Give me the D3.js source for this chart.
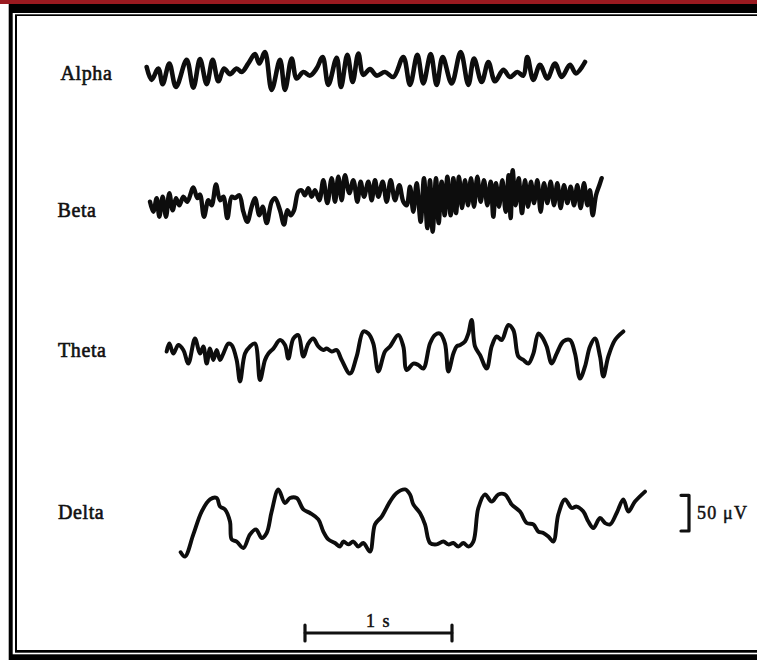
<!DOCTYPE html>
<html>
<head>
<meta charset="utf-8">
<script src="https://cdn.jsdelivr.net/npm/d3@7"></script>
<style>
  html, body { margin: 0; padding: 0; background: #fff; }
  svg { display: block; }
</style>
</head>
<body>
<div id="chart"></div>
<script>
// Tracés EEG : [échantillon, µV], échantillonnage 441 Hz
const sampleRate = 441;

const alpha = [
  [20, 7], [35, -11], [55, 5], [68, -17], [88, 12], [108, -21], [140, 17], [160, -22],
  [180, 18], [200, -17], [218, 17], [235, -13], [252, 5], [270, -3], [290, 5], [305, 0],
  [325, 12], [345, 25], [358, 12], [375, 28], [395, -25], [420, 17], [435, -25], [455, 19],
  [470, -9], [490, 0], [510, -5], [530, 5], [548, 21], [565, -18], [590, 20], [603, -21],
  [622, 24], [638, -14], [655, 26], [670, -4], [690, 4], [710, -5], [735, 0], [760, -7],
  [790, 21], [810, -18], [832, 24], [850, -16], [872, 25], [890, -18], [908, 21], [935, -16],
  [962, 28], [985, -18], [1002, 19], [1025, -14], [1045, 14], [1065, -13], [1090, 3], [1110, -7],
  [1132, 0], [1150, -5], [1162, 21], [1180, -11], [1200, 10], [1222, -9], [1245, 12], [1265, -7],
  [1290, 10], [1308, -2], [1335, 14]
];

const beta = [
  [30, 0], [40, -14], [50, 5], [58, -21], [68, 7], [78, -21], [88, 12], [98, -12],
  [108, 5], [118, -5], [130, 7], [142, 0], [160, 20], [172, 5], [180, 10], [192, -21],
  [205, 2], [215, -5], [228, 24], [240, 2], [250, 7], [262, -23], [275, 7], [285, 5],
  [298, 9], [310, -14], [322, -28], [335, -7], [345, 5], [358, -19], [368, -7], [380, -30],
  [395, 0], [405, 5], [420, -12], [432, -32], [442, -12], [452, -19], [462, -12], [475, 14],
  [485, 16], [495, 9], [505, 19], [515, 7], [525, 16], [538, 2], [550, 30], [562, -2],
  [575, 33], [585, 0], [595, 35], [605, 2], [615, 37], [628, 12], [640, 30], [652, 0],
  [662, 28], [672, 7], [685, 28], [695, 2], [705, 30], [715, 7], [728, 28], [740, 0],
  [752, 30], [765, 2], [778, 23], [790, 0],
  [800, -5], [810, 21], [820, -14], [830, 26], [842, -28], [852, 33], [862, -37], [870, 30],
  [878, -42], [888, 33], [896, -30], [905, 28], [914, -19], [922, 35], [932, -19], [940, 33],
  [948, -16], [957, 35], [966, -9], [975, 30], [984, -5], [993, 33], [1002, -7], [1012, 35],
  [1022, 0], [1032, 30], [1042, -5], [1052, 28], [1060, -21], [1068, 26], [1077, -7], [1087, 30],
  [1097, -14], [1106, 37], [1112, -23], [1118, 44], [1127, -5], [1136, 33], [1146, -16], [1155, 30],
  [1164, -7], [1173, 28], [1182, -2], [1192, 30], [1202, -14], [1212, 26], [1222, -2], [1232, 28],
  [1242, -5], [1252, 26], [1262, -9], [1272, 23], [1282, -2], [1292, 21], [1302, -5], [1312, 23],
  [1322, -9], [1332, 26], [1342, -5], [1350, 16], [1358, -19], [1368, 9], [1378, 23], [1385, 33]
];

const theta = [
  [80, -2], [88, 9], [100, -5], [115, 7], [130, 0], [145, -19], [165, 16], [180, -5],
  [190, 5], [200, -19], [210, 2], [220, -14], [230, 0], [240, -14], [250, -5], [265, 9],
  [275, 7], [290, -14], [300, -44], [315, -5], [330, 5], [345, 9], [360, -42], [375, -14],
  [385, -5], [400, 2], [420, 14], [435, 7], [445, -12], [460, 16], [475, 21], [490, -9],
  [505, 9], [520, 16], [535, 5], [550, 0], [560, 2], [575, -2], [590, 0], [605, -14],
  [630, -33], [650, -9], [670, 26], [685, 23], [700, 9], [715, -30], [735, -2], [750, 5],
  [775, 21], [790, 5], [800, -28], [820, -19], [835, -21], [850, -26], [870, 9], [885, 21],
  [900, 23], [915, 9], [925, -30], [940, -5], [950, 5], [960, 7], [975, 12], [985, 23],
  [995, 42], [1005, 5], [1020, -7], [1040, -26], [1055, 5], [1070, 19], [1085, 14], [1105, 35],
  [1120, 28], [1135, -9], [1150, -14], [1165, -19], [1180, -5], [1195, 23], [1205, 19], [1220, 5],
  [1235, -19], [1250, -5], [1270, 12], [1290, 14], [1305, -5], [1320, -40], [1335, -23], [1350, 5],
  [1365, 16], [1380, -9], [1390, -37], [1405, -9], [1425, 14], [1450, 26]
];

const delta = [
  [122, -41], [135, -47], [160, -16], [185, 16], [210, 33], [230, 35], [240, 23], [255, 19],
  [270, 2], [275, -23], [290, -26], [310, -35], [330, -16], [348, -9], [365, -21], [380, -14],
  [395, 16], [415, 47], [435, 28], [450, 35], [470, 35], [490, 19], [510, 14], [535, 5],
  [550, -12], [565, -23], [585, -28], [600, -33], [610, -26], [625, -30], [640, -26], [655, -33],
  [670, -28], [690, -40], [705, -2], [725, 9], [750, 30], [770, 42], [795, 47], [810, 40],
  [820, 26], [840, 14], [855, -2], [870, -28], [890, -30], [910, -26], [925, -30], [940, -28],
  [955, -33], [970, -28], [985, -33], [1000, -26], [1015, 21], [1035, 40], [1055, 30], [1075, 40],
  [1095, 40], [1115, 26], [1140, 16], [1160, 0], [1180, -2], [1195, -12], [1210, -14], [1225, -19],
  [1240, -26], [1255, 12], [1275, 33], [1295, 21], [1310, 23], [1330, 16], [1345, 2], [1360, -7],
  [1380, 7], [1395, 0], [1410, -2], [1430, 14], [1450, 33], [1465, 16], [1485, 30], [1515, 44]
];

const labels = ["Alpha", "Beta", "Theta", "Delta"];
const timeLabel = "1 s";
const voltLabel = "50 \u03bcV";

const width = 757, height = 660;
const serif = "'Liberation Serif', 'DejaVu Serif', serif";

const svg = d3.select("#chart").append("svg")
  .attr("width", width)
  .attr("height", height);

// Cadre : bandeau rouge + double bordure noire
svg.append("rect").attr("width", width).attr("height", height).attr("fill", "#fff");
svg.append("rect").attr("x", 0).attr("y", 0).attr("width", width).attr("height", 4).attr("fill", "#9a1a20");
svg.append("rect").attr("x", 8.7).attr("y", 4).attr("width", width).attr("height", height).attr("fill", "#000");
svg.append("rect").attr("x", 12.7).attr("y", 13).attr("width", width).attr("height", 641.3).attr("fill", "#fff");
svg.append("rect").attr("x", 15).attr("y", 14.3).attr("width", width).attr("height", 638.4).attr("fill", "#000");
svg.append("rect").attr("x", 17).attr("y", 16).attr("width", width).attr("height", 634).attr("fill", "#fff");

// Echelles
const x = d3.scaleLinear().domain([0, sampleRate]).range([140, 287]);
const amp = d3.scaleLinear().domain([0, 50]).range([0, -35.7]);

const traces = [
  { name: labels[0], data: alpha, base: 72, lx: 60.5, ly: 80, sw: 4.6 },
  { name: labels[1], data: beta, base: 201.7, lx: 57.5, ly: 217, sw: 4.4 },
  { name: labels[2], data: theta, base: 350, lx: 58, ly: 357, sw: 4 },
  { name: labels[3], data: delta, base: 523, lx: 58, ly: 519, sw: 3.9 }
];

traces.forEach((tr) => {
  const line = d3.line()
    .x((d) => x(d[0]))
    .y((d) => tr.base + amp(d[1]))
    .curve(d3.curveCatmullRom.alpha(0.5));

  svg.append("path")
    .datum(tr.data)
    .attr("d", line)
    .attr("fill", "none")
    .attr("stroke", "#0d0d0d")
    .attr("stroke-width", tr.sw)
    .attr("stroke-linejoin", "round")
    .attr("stroke-linecap", "round");

  svg.append("text")
    .attr("x", tr.lx)
    .attr("y", tr.ly)
    .attr("font-family", serif)
    .attr("font-size", 20)
    .attr("letter-spacing", 0.6)
    .attr("fill", "#111")
    .attr("stroke", "#111")
    .attr("stroke-width", 0.6)
    .text(tr.name);
});

// Barre d'échelle temporelle (1 s)
const t0 = 495, t1 = t0 + sampleRate;
const barY = 633;
const gBar = svg.append("g").attr("stroke", "#111").attr("stroke-linecap", "round");
gBar.append("line").attr("x1", x(t0)).attr("x2", x(t1)).attr("y1", barY).attr("y2", barY).attr("stroke-width", 2.8);
gBar.append("line").attr("x1", x(t0)).attr("x2", x(t0)).attr("y1", barY - 8).attr("y2", barY + 8).attr("stroke-width", 3.2);
gBar.append("line").attr("x1", x(t1)).attr("x2", x(t1)).attr("y1", barY - 8).attr("y2", barY + 8).attr("stroke-width", 3.2);
svg.append("text")
  .attr("x", (x(t0) + x(t1)) / 2)
  .attr("y", 627)
  .attr("text-anchor", "middle")
  .attr("font-family", serif)
  .attr("font-size", 18)
  .attr("letter-spacing", 1.5)
  .attr("fill", "#111")
  .attr("stroke", "#111")
  .attr("stroke-width", 0.5)
  .text(timeLabel);

// Barre d'échelle en amplitude (50 µV)
const vTop = 531 + amp(50), vBot = 531;
const bx = 689;
svg.append("path")
  .attr("d", `M${bx - 8},${vTop} L${bx},${vTop} L${bx},${vBot} L${bx - 8},${vBot}`)
  .attr("fill", "none")
  .attr("stroke", "#111")
  .attr("stroke-width", 3.2)
  .attr("stroke-linejoin", "round")
  .attr("stroke-linecap", "round");
svg.append("text")
  .attr("x", 697)
  .attr("y", 519)
  .attr("font-family", serif)
  .attr("font-size", 18)
  .attr("letter-spacing", 1.2)
  .attr("fill", "#111")
  .attr("stroke", "#111")
  .attr("stroke-width", 0.5)
  .text(voltLabel);
</script>
</body>
</html>
